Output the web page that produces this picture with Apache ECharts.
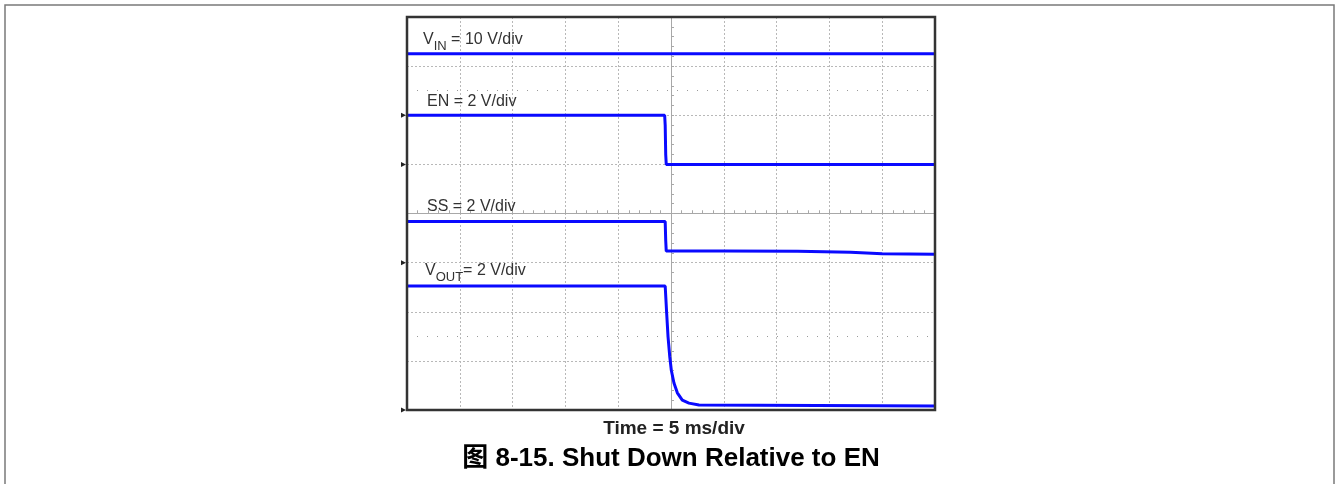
<!DOCTYPE html>
<html>
<head>
<meta charset="utf-8">
<script src="https://cdn.jsdelivr.net/npm/echarts@6/dist/echarts.min.js"></script>
<style>
html,body{margin:0;padding:0;background:#fff;}
#c{width:1336px;height:484px;}
</style>
</head>
<body>
<div id="c"></div>
<script>
// ---- Data (time in ms, signals in volts) ----
const vinTime  = [-25, 25];
const vinVolts = [12.5, 12.5];

const enTime  = [-25, -0.6, -0.55, -0.5, -0.45, 25];
const enVolts = [2.0, 2.0, 1.6, 0.4, 0.0, 0.0];

const ssTime  = [-25, -0.55, -0.5, -0.45, 5, 12, 17, 20, 25];
const ssVolts = [1.67, 1.67, 0.9, 0.47, 0.47, 0.46, 0.42, 0.36, 0.34];

const voutTime  = [-25, -0.55, -0.5, -0.41, -0.28, -0.12, 0.03, 0.28, 0.60, 1.07, 1.70, 2.65, 25];
const voutVolts = [5.05, 5.05, 5.0, 3.94, 2.98, 2.18, 1.62, 1.10, 0.70, 0.40, 0.28, 0.20, 0.16];

// scope settings: volts per division and ground level (divisions from screen centre)
const channelNames = ['VIN', 'EN', 'SS', 'VOUT'];
const voltsPerDiv  = [10, 2, 2, 2];
const groundDiv    = [2, 1, -1, -4];

const timeTicks = [-25, -20, -15, -10, -5, 0, 5, 10, 15, 20, 25];
const divTicks = [-4, -3, -2, -1, 0, 1, 2, 3, 4];
const cursorDivs = [2.5, -2.5];

const xLabel = 'Time = 5 ms/div';
const title = '图 8-15. Shut Down Relative to EN';

// ---- Build ----
const traces = [[vinTime, vinVolts], [enTime, enVolts], [ssTime, ssVolts], [voutTime, voutVolts]];
function toDivs(i) {
  const t = traces[i][0], v = traces[i][1];
  return t.map((x, k) => [x, groundDiv[i] + v[k] / voltsPerDiv[i]]);
}

const FONT = 'Arial, "Liberation Sans", Helvetica, "Noto Sans CJK SC", sans-serif';
const chart = echarts.init(document.getElementById('c'), null, {renderer: 'canvas'});

const X0 = timeTicks[0], X1 = timeTicks[timeTicks.length - 1];
const Y0 = divTicks[0], Y1 = divTicks[divTicks.length - 1];
const GRIDC = '#a8a8a8';

const centreAxisCommon = {
  type: 'value', min: X0, max: X1, interval: 5,
  axisLabel: {show: false},
  axisLine: {show: true, onZero: true, onZeroAxisIndex: 0, lineStyle: {color: GRIDC, width: 1}},
  minorTick: {show: true, splitNumber: 5, length: 3, lineStyle: {color: GRIDC}},
  minorSplitLine: {show: false}
};

const series = traces.map((_, i) => ({
  type: 'line', name: channelNames[i], data: toDivs(i),
  showSymbol: false, symbol: 'none', animation: false,
  lineStyle: {color: '#0a0aff', width: 3},
  z: 5
}));
series[0].markLine = {
  silent: true, symbol: ['none', 'none'], animation: false,
  label: {show: false},
  lineStyle: {color: '#9a9a9a', type: [1, 9], width: 1},
  data: cursorDivs.map(d => ({yAxis: d}))
};

chart.setOption({
  backgroundColor: '#fff',
  animation: false,
  grid: {left: 407, right: 401, top: 17, bottom: 74, show: false},
  xAxis: [
    Object.assign({}, centreAxisCommon, {
      position: 'bottom',
      axisTick: {show: true, inside: true, length: 3, lineStyle: {color: GRIDC}},
      splitLine: {show: true, lineStyle: {color: '#b8b8b8', type: [2, 2], width: 1}}
    }),
    Object.assign({}, centreAxisCommon, {
      position: 'top',
      axisTick: {show: true, inside: false, length: 3, lineStyle: {color: GRIDC}},
      splitLine: {show: false}
    })
  ],
  yAxis: [
    {
      type: 'value', min: Y0, max: Y1, interval: 1,
      axisLabel: {show: false},
      axisLine: {show: true, onZero: true, onZeroAxisIndex: 0, lineStyle: {color: GRIDC, width: 1}},
      axisTick: {show: true, inside: true, length: 3, lineStyle: {color: GRIDC}},
      minorTick: {show: true, splitNumber: 5, length: 3, lineStyle: {color: GRIDC}},
      splitLine: {show: true, lineStyle: {color: '#b8b8b8', type: [2, 2], width: 1}}
    },
    {
      type: 'value', min: Y0, max: Y1, interval: 1, position: 'right',
      axisLabel: {show: false},
      axisLine: {show: true, onZero: true, onZeroAxisIndex: 0, lineStyle: {color: GRIDC, width: 1}},
      axisTick: {show: true, inside: false, length: 3, lineStyle: {color: GRIDC}},
      minorTick: {show: true, splitNumber: 5, length: 3, lineStyle: {color: GRIDC}},
      splitLine: {show: false}
    }
  ],
  series: series
});

// frame, ground markers and annotations
const graphics = [];
graphics.push({type: 'rect', shape: {x: 5, y: 5, width: 1329, height: 520}, style: {fill: 'none', stroke: '#7a7a7a', lineWidth: 1.5}, silent: true, z: 0});
const tl = chart.convertToPixel({gridIndex: 0}, [X0, Y1]);
const br = chart.convertToPixel({gridIndex: 0}, [X1, Y0]);
graphics.push({type: 'rect', shape: {x: tl[0], y: tl[1], width: br[0] - tl[0], height: br[1] - tl[1]},
  style: {fill: 'none', stroke: '#333', lineWidth: 2.5}, silent: true, z: 20});
groundDiv.forEach(g => {
  const p = chart.convertToPixel({gridIndex: 0}, [X0, g]);
  graphics.push({type: 'polygon', shape: {points: [[p[0] - 6, p[1] - 2.5], [p[0] - 1, p[1]], [p[0] - 6, p[1] + 2.5]]}, style: {fill: '#222'}, silent: true, z: 21});
});
const labelStyle = {fontSize: 16, lineHeight: 18, fontFamily: FONT, fill: '#333', verticalAlign: 'top', align: 'left',
  rich: {s: {fontSize: 13, lineHeight: 15, padding: [12, 0, 0, 0], fontFamily: FONT, fill: '#333'}}};
const labels = [
  ['V{s|IN} = 10 V/div', 423, 31],
  ['EN = 2 V/div', 427, 93],
  ['SS = 2 V/div', 427, 197.5],
  ['V{s|OUT}= 2 V/div', 425, 262]
];
labels.forEach(l => graphics.push({type: 'text', x: l[1], y: l[2], z: 10, silent: true,
  style: Object.assign({}, labelStyle, {text: l[0]})}));
graphics.push({type: 'text', x: 674, y: 428.5, z: 10, silent: true,
  style: {text: xLabel, fontSize: 19, fontWeight: 'bold', fontFamily: FONT, fill: '#222', align: 'center', verticalAlign: 'middle'}});
graphics.push({type: 'text', x: 671, y: 459, z: 10, silent: true,
  style: {text: title, fontSize: 26, fontWeight: 'bold', fontFamily: FONT, fill: '#000', align: 'center', verticalAlign: 'middle'}});
chart.setOption({graphic: graphics});
</script>
</body>
</html>
